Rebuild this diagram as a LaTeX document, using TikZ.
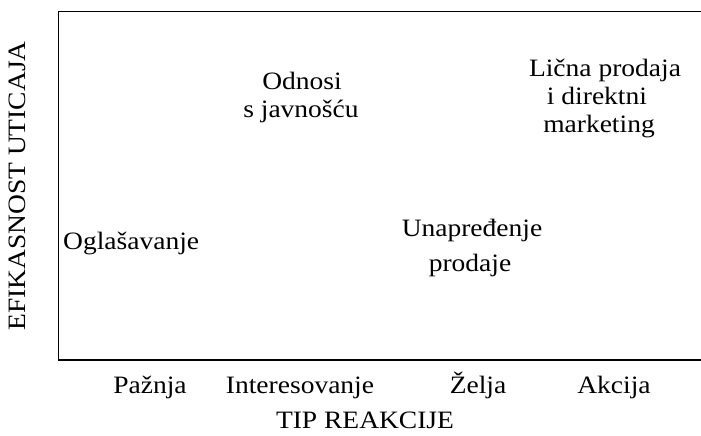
\documentclass[tikz,border=0pt]{standalone}
\usepackage{fontspec}
\setmainfont{Liberation Serif}[FakeStretch=1.1]
\begin{document}
\begin{tikzpicture}[x=1bp,y=-1bp,
  lbl/.style={inner sep=0pt,anchor=base,font=\fontsize{25bp}{28bp}\selectfont},
  frame/.style={line width=1.4bp,black}]
\useasboundingbox (0,0) rectangle (701,436);
% chart frame (open on the right)
\coordinate (tr) at (701,11.5);
\coordinate (tl) at (58.5,11.5);
\coordinate (bl) at (58.5,360);
\coordinate (br) at (701,360);
\draw[frame] (tr) -- (tl) -- (bl) -- (br);
% axis titles
\node[lbl,rotate=90] (ylab) at (25.5,186) {EFIKASNOST UTICAJA};
\node[lbl] (xlab) at (365,428) {TIP REAKCIJE};
% reaction stages
\node[lbl] (paz) at (150,393) {Pažnja};
\node[lbl] (int) at (300,393) {Interesovanje};
\node[lbl] (zel) at (478,393) {Želja};
\node[lbl] (akc) at (614,393) {Akcija};
% promotion tools
\node[lbl,anchor=base west] (ogl) at (63,250) {Oglašavanje};
\node[lbl] (odn1) at (302,90) {Odnosi};
\node[lbl] (odn2) at (301,118) {s javnošću};
\node[lbl] (lic1) at (605,77) {Lična prodaja};
\node[lbl] (lic2) at (597,105) {i direktni};
\node[lbl] (lic3) at (599,133) {marketing};
\node[lbl] (una1) at (472,237) {Unapređenje};
\node[lbl] (una2) at (470,272) {prodaje};
\end{tikzpicture}
\end{document}
